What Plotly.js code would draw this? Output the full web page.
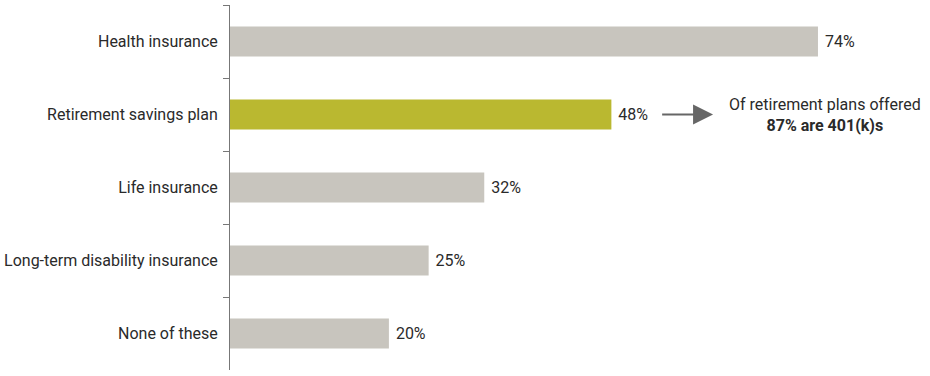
<!DOCTYPE html>
<html><head><meta charset="utf-8">
<script src="https://cdn.plot.ly/plotly-3.0.1.min.js"></script>
<style>html,body{margin:0;padding:0;background:#fff}#chart{width:930px;height:376px}</style>
</head><body><div id="chart"></div>
<script>
const categories = ["Health insurance","Retirement savings plan","Life insurance","Long-term disability insurance","None of these"];
const values = [74, 48, 32, 25, 20];
const valueLabels = ["74%","48%","32%","25%","20%"];
const highlight = "Retirement savings plan";
const noteLines = ["Of retirement plans offered","87% are 401(k)s"];

const colors = categories.map(c => c === highlight ? "#BAB830" : "#C8C5BE");
const FONT = "Roboto, 'Open Sans', sans-serif";

const trace = {
  type: "bar", orientation: "h",
  x: values, y: categories,
  marker: {color: colors},
  text: valueLabels, texttemplate: "\u00a0%{text}", textposition: "outside", cliponaxis: false,
  textfont: {family: FONT, size: 16, color: "#2a2a2a"},
  hoverinfo: "none"
};

const layout = {
  width: 930, height: 376,
  margin: {l: 230, r: 0, t: 5, b: 6},
  paper_bgcolor: "#fff", plot_bgcolor: "#fff",
  showlegend: false, bargap: 0.59,
  font: {family: FONT, size: 16, color: "#2a2a2a"},
  xaxis: {range: [0, 88.1], visible: false, fixedrange: true},
  yaxis: {
    autorange: "reversed", type: "category",
    showline: true, linecolor: "#777", linewidth: 1,
    ticks: "outside", tickson: "boundaries", ticklen: 6, tickcolor: "#777",
    tickfont: {family: FONT, size: 16, color: "#2a2a2a"},
    ticklabelstandoff: 8, showgrid: false, zeroline: false
  },
  annotations: [
    {x: 60.8, y: highlight, ax: 54.2, ay: highlight, axref: "x", ayref: "y", xref: "x", yref: "y",
     text: "", showarrow: true, arrowhead: 2, arrowwidth: 2, arrowsize: 2, arrowcolor: "#666"},
    {x: 74.9, y: highlight, xref: "x", yref: "y", xanchor: "center", yanchor: "middle",
     text: noteLines[0] + "<br><b>" + noteLines[1] + "</b>", showarrow: false, align: "center",
     font: {family: FONT, size: 16, color: "#2a2a2a"}}
  ]
};

Plotly.newPlot("chart", [trace], layout, {displayModeBar: false, staticPlot: true});
</script></body></html>
